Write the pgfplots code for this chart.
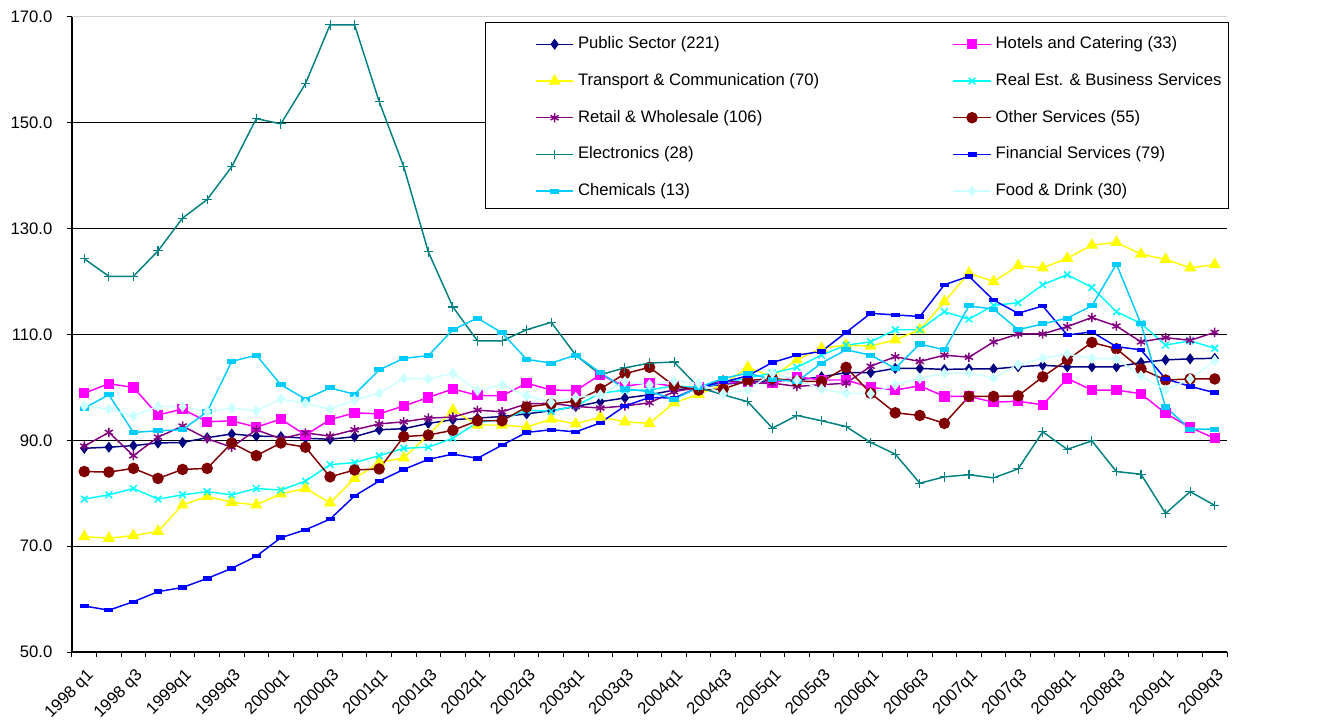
\documentclass[border=0pt]{standalone}
\usepackage{fontspec}
\setmainfont{Liberation Sans}
\usepackage{pgfplots}
\pgfplotsset{compat=1.18}
\usepackage{pgfplotstable}

\definecolor{cPub}{HTML}{000080}
\definecolor{cHot}{HTML}{FF00FF}
\definecolor{cTra}{HTML}{FFFF00}
\definecolor{cRea}{HTML}{00FFFF}
\definecolor{cRet}{HTML}{800080}
\definecolor{cOth}{HTML}{800000}
\definecolor{cEle}{HTML}{008080}
\definecolor{cFin}{HTML}{0000FF}
\definecolor{cChe}{HTML}{00CCFF}
\definecolor{cFoo}{HTML}{CCFFFF}

\pgfplotstableread{
i pub hot tra rea ret oth ele fin che foo
0 88.5 98.9 71.8 78.9 88.9 84.1 124.3 58.7 96.1 96.5
1 88.7 100.7 71.5 79.7 91.5 84.0 121.0 57.9 98.6 95.9
2 89.0 100.0 72.0 80.9 87.1 84.7 121.0 59.5 91.5 94.6
3 89.5 94.8 72.8 78.9 90.6 82.8 125.8 61.4 91.8 96.4
4 89.6 95.9 77.8 79.7 92.7 84.5 132.0 62.2 92.0 96.4
5 90.5 93.5 79.4 80.3 90.3 84.7 135.5 63.9 95.4 95.4
6 91.2 93.7 78.3 79.7 88.7 89.5 141.7 65.8 104.9 96.1
7 90.8 92.5 77.8 80.9 92.0 87.1 150.8 68.1 106.1 95.6
8 90.7 94.0 79.9 80.6 90.3 89.5 149.8 71.6 100.5 97.8
9 90.4 91.0 80.9 82.3 91.4 88.7 157.4 73.1 97.8 97.0
10 90.2 93.9 78.2 85.4 90.8 83.1 168.5 75.1 99.9 95.9
11 90.7 95.2 82.8 85.8 92.0 84.4 168.5 79.5 98.7 97.6
12 92.0 95.0 85.8 87.1 93.1 84.6 154.0 82.3 103.3 98.9
13 92.2 96.5 86.7 88.5 93.5 90.7 141.7 84.5 105.5 101.7
14 93.2 98.1 91.0 88.7 94.2 91.0 125.6 86.4 106.0 101.6
15 93.9 99.7 95.7 90.4 94.4 91.9 115.2 87.4 110.9 102.7
16 94.2 98.5 92.9 93.4 95.7 93.7 108.8 86.6 113.1 99.4
17 94.5 98.4 92.9 93.9 95.4 93.7 108.8 89.1 110.3 100.5
18 95.0 100.8 92.5 95.7 96.9 96.3 110.9 91.5 105.3 98.4
19 95.6 99.5 94.0 95.5 97.0 96.9 112.3 92.0 104.6 97.2
20 96.4 99.4 93.1 96.5 96.4 97.4 106.1 91.6 106.1 98.1
21 97.3 102.4 94.4 98.9 96.1 99.7 102.4 93.3 102.8 98.6
22 98.0 100.2 93.5 99.5 96.5 102.6 103.7 96.5 99.7 101.1
23 98.6 100.9 93.2 99.5 97.1 103.8 104.6 98.1 99.2 100.5
24 99.5 100.2 97.1 100.3 99.2 100.3 104.8 98.0 97.8 101.2
25 100.0 100.0 98.7 100.0 100.0 99.5 100.0 100.0 100.0 100.8
26 100.6 100.8 100.5 100.8 101.4 99.7 98.6 101.0 101.7 98.8
27 101.0 101.0 103.8 101.8 100.8 101.3 97.3 102.2 102.7 99.5
28 101.3 100.8 102.0 102.7 100.8 101.7 92.3 104.7 101.5 102.7
29 101.4 102.0 105.2 103.8 100.2 101.2 94.7 106.1 101.1 101.4
30 102.0 101.4 107.4 106.1 100.5 101.1 93.7 106.8 104.6 99.7
31 102.8 101.4 108.0 108.0 100.8 103.8 92.6 110.4 107.1 98.9
32 102.8 100.0 107.8 108.6 104.0 98.9 89.6 114.0 106.1 98.8
33 103.6 99.5 109.0 110.9 105.8 95.2 87.4 113.7 103.6 100.5
34 103.6 100.3 110.9 110.9 104.9 94.7 81.9 113.4 108.2 101.7
35 103.4 98.3 116.2 114.3 106.1 93.2 83.1 119.4 107.1 102.7
36 103.5 98.3 121.6 112.9 105.7 98.3 83.5 121.0 115.4 102.7
37 103.5 97.2 120.0 115.5 108.6 98.3 82.9 116.5 114.8 101.8
38 103.9 97.4 123.0 116.0 110.1 98.4 84.6 114.0 110.9 104.3
39 104.2 96.7 122.6 119.4 110.1 102.0 91.6 115.4 112.0 105.5
40 103.9 101.7 124.4 121.3 111.5 105.2 88.3 109.9 113.1 106.3
41 103.9 99.5 126.9 118.9 113.2 108.5 89.9 110.5 115.4 105.5
42 103.9 99.5 127.4 114.3 111.6 107.3 84.1 107.7 123.3 105.4
43 104.7 98.8 125.2 112.1 108.6 103.5 83.6 107.1 112.0 102.2
44 105.2 95.1 124.2 108.0 109.4 101.4 76.2 101.6 96.3 99.5
45 105.4 92.4 122.6 108.8 108.9 101.6 80.3 100.2 92.1 101.6
46 105.5 90.4 123.2 107.4 110.4 101.6 77.7 99.0 92.1 105.1
}\data

\newcommand{\lA}[1]{\makebox[246pt][l]{#1}}
\newcommand{\lB}[1]{\makebox[169pt][l]{#1}}
\newcommand{\lClip}[1]{\tikz[baseline=0pt]{\useasboundingbox (0pt,-3pt) rectangle (169pt,9.5pt); \clip (0pt,-5pt) rectangle (169pt,13pt); \node[anchor=base west, inner sep=0pt, text height=9.5pt, text depth=3pt] at (0pt,0pt) {#1};}}

\begin{document}
\begin{tikzpicture}
\useasboundingbox (0,0) rectangle (987.75pt,543.75pt);
\begin{axis}[
  at={(54pt,54.75pt)}, anchor=south west,
  scale only axis, width=866.25pt, height=476.25pt,
  xmin=-0.5, xmax=46.5, ymin=50, ymax=170,
  axis x line*=bottom, axis y line*=left,
  axis line style={black, line width=0.9pt},
  tick align=outside,
  major tick length=3.75pt,
  tick style={black, line width=0.75pt},
  xtick={-0.5,0.5,...,46.5},
  xticklabels=\empty,
  extra x ticks={0,2,...,46},
  extra x tick labels={1998 q1,1998 q3,1999q1,1999q3,2000q1,2000q3,2001q1,2001q3,2002q1,2002q3,2003q1,2003q3,2004q1,2004q3,2005q1,2005q3,2006q1,2006q3,2007q1,2007q3,2008q1,2008q3,2009q1,2009q3},
  extra x tick style={major tick length=0pt, tick label style={yshift=-7pt, xshift=1pt, rotate=45, anchor=north east}},
  ytick={50,70,...,170},
  yticklabel style={xshift=-7.5pt, /pgf/number format/.cd, fixed, fixed zerofill, precision=1},
  /pgf/number format/assume math mode=true,
  extra y ticks={70,90,...,150},
  extra y tick labels={},
  extra y tick style={grid=major, major grid style={black, line width=0.75pt}, major tick length=0pt},
  tick label style={font=\fontsize{12.5}{14}\selectfont},
  every axis plot/.append style={line width=1.1pt},
  legend columns=2,
  legend cell align=left,
  legend image code/.code={\path (-32pt,-6.25pt) (0pt,9.25pt); \draw[mark repeat=2,mark phase=2] plot coordinates {(0pt,0pt) (14pt,0pt) (28pt,0pt)};},
  legend style={at={(0.3576,0.9921)}, anchor=north west, draw=black, line width=0.75pt, fill=white,
    font=\fontsize{12.5}{14}\selectfont, inner xsep=5.25pt, inner ysep=6.5pt,
    column sep=3pt, row sep=10.95pt,
    nodes={inner sep=0pt, text height=9.5pt, text depth=3pt}},
]
\addplot[color=cPub, mark=diamond*, mark size=3.3pt, mark options={solid}] table[x=i,y=pub]{\data};
\addlegendentry{\lA{Public Sector (221)}}
\addplot[color=cHot, mark=square*, mark size=3.3pt, mark options={solid}] table[x=i,y=hot]{\data};
\addlegendentry{\lB{Hotels and Catering (33)}}
\addplot[color=cTra, mark=triangle*, mark size=4.2pt, mark options={solid}] table[x=i,y=tra]{\data};
\addlegendentry{\lA{Transport \& Communication (70)}}
\addplot[color=cRea, mark=x, mark size=3.5pt, mark options={solid}] table[x=i,y=rea]{\data};
\addlegendentry{\lClip{Real Est. \& Business Services (177)}}
\addplot[color=cRet, mark=asterisk, mark size=3.5pt, mark options={solid}] table[x=i,y=ret]{\data};
\addlegendentry{\lA{Retail \& Wholesale (106)}}
\addplot[color=cOth, mark=*, mark size=3.75pt, mark options={solid}] table[x=i,y=oth]{\data};
\addlegendentry{\lB{Other Services (55)}}
\addplot[color=cEle, mark=+, mark size=3.5pt, mark options={solid, line width=0.8pt}] table[x=i,y=ele]{\data};
\addlegendentry{\lA{Electronics (28)}}
\addplot[color=cFin, mark=square*, mark size=2.8pt, mark options={solid, yscale=0.4}] table[x=i,y=fin]{\data};
\addlegendentry{\lB{Financial Services (79)}}
\addplot[color=cChe, mark=square*, mark size=3pt, mark options={solid, yscale=0.45}] table[x=i,y=che]{\data};
\addlegendentry{\lA{Chemicals (13)}}
\addplot[color=cFoo, mark=diamond*, mark size=3.3pt, mark options={solid}] table[x=i,y=foo]{\data};
\addlegendentry{\lB{Food \& Drink (30)}}
\draw[gray!35, line width=0.75pt] (rel axis cs:0,1) -- (rel axis cs:1,1);
\end{axis}
\end{tikzpicture}
\end{document}
